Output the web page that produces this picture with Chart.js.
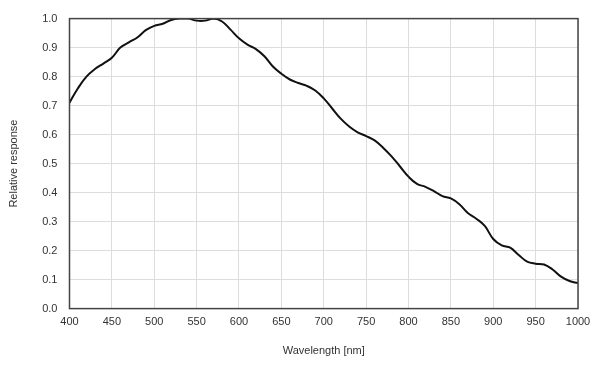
<!DOCTYPE html>
<html lang="en">
<head>
<meta charset="UTF-8">
<title>Relative response</title>
<script src="https://cdn.jsdelivr.net/npm/chart.js@4/dist/chart.umd.min.js"></script>
<style>
body {margin:0; background:#fff;}
</style>
</head>
<body>
<canvas id="chartResponse" width="601" height="365"></canvas>
<script>
// wavelength [nm] and relative response
var wavelength = [400,410,420,430,440,450,460,470,480,490,500,510,520,530,540,550,560,570,580,590,
  600,610,620,630,640,650,660,670,680,690,700,710,720,730,740,750,760,770,780,790,
  800,810,820,830,840,850,860,870,880,890,900,910,920,930,940,950,960,970,980,990,1000];
var response = [0.71,0.76,0.80,0.826,0.845,0.865,0.90,0.918,0.935,0.96,0.975,0.982,0.995,1.0,1.0,0.993,0.993,1.0,0.99,0.962,
  0.932,0.91,0.895,0.87,0.835,0.81,0.79,0.778,0.768,0.752,0.725,0.69,0.655,0.628,0.608,0.595,0.58,0.555,0.525,0.49,
  0.455,0.43,0.42,0.405,0.388,0.38,0.36,0.33,0.31,0.285,0.24,0.218,0.21,0.185,0.162,0.155,0.152,0.135,0.11,0.095,0.088];

var points = [];
for (var i = 0; i < wavelength.length; i++) {
  points.push({x: wavelength[i], y: response[i]});
}

// frame around the plot area
var frame = {
  id: "frame",
  afterDraw: function(chart) {
    var a = chart.chartArea, ctx = chart.ctx;
    ctx.save();
    ctx.strokeStyle = "#444";
    ctx.lineWidth = 1.5;
    ctx.strokeRect(a.left, a.top, a.right - a.left, a.bottom - a.top);
    ctx.restore();
  }
};

Chart.defaults.font.family = "'Liberation Sans', Arial, sans-serif";
Chart.defaults.font.size = 11;
Chart.defaults.color = "#333";

new Chart("chartResponse", {
  type: "line",
  data: {
    datasets: [{
      data: points,
      borderColor: "#111",
      borderWidth: 2,
      fill: false,
      pointRadius: 0,
      tension: 0.4
    }]
  },
  options: {
    responsive: false,
    animation: false,
    layout: {padding: {top: 12, right: 23, left: 3, bottom: 3}},
    plugins: {legend: {display: false}, tooltip: {enabled: false}},
    scales: {
      x: {
        type: "linear",
        min: 400, max: 1000,
        ticks: {stepSize: 50, padding: 7, callback: function(v) { return String(v); }},
        grid: {color: "#ddd", drawTicks: false},
        border: {display: false},
        title: {display: true, text: "Wavelength [nm]", padding: {top: 9}}
      },
      y: {
        min: 0, max: 1,
        ticks: {stepSize: 0.1, padding: 12, callback: function(v) { return v.toFixed(1); }},
        grid: {color: "#ddd", drawTicks: false},
        border: {display: false},
        title: {display: true, text: "Relative response", padding: {bottom: 10}}
      }
    }
  },
  plugins: [frame]
});
</script>
</body>
</html>
